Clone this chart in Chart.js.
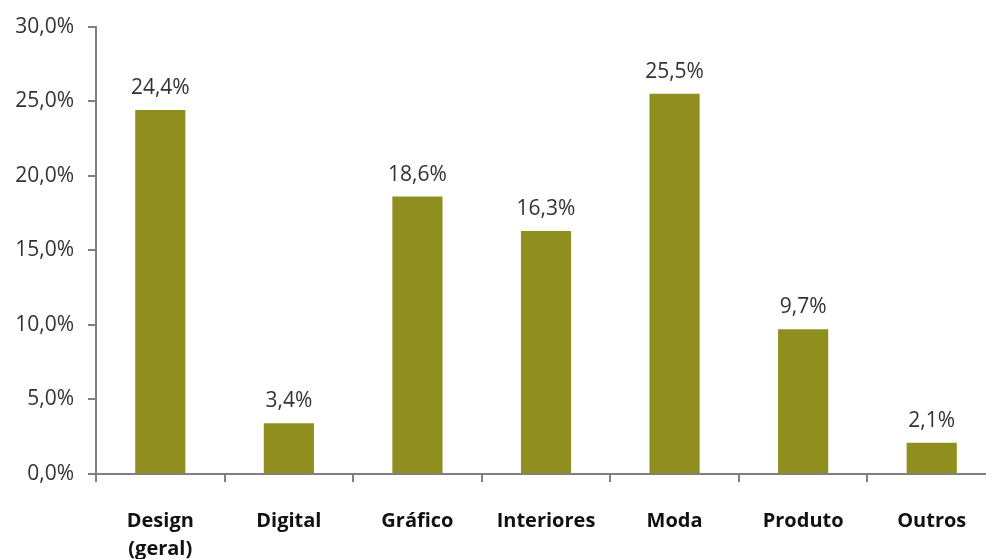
<!DOCTYPE html>
<html>
<head>
<meta charset="utf-8">
<script src="https://cdn.jsdelivr.net/npm/chart.js@4"></script>
<style>
  body { margin: 0; overflow: hidden; background: #fff; }
  #wrap { width: 1000px; height: 559px; }
</style>
</head>
<body>
<div id="wrap"><canvas id="chart-0" width="1000" height="559"></canvas></div>
<script>
// categories and values
var categories = [["Design", "(geral)"], "Digital", "Gráfico", "Interiores", "Moda", "Produto", "Outros"];
var shares = [24.4, 3.4, 18.6, 16.3, 25.5, 9.7, 2.1];
var yTicks = [0, 5, 10, 15, 20, 25, 30];

function pct(v) {
    return v.toFixed(1).replace(".", ",") + "%";
}

// draws the value above every bar
var barValues = {
    id: "barValues",
    afterDatasetsDraw(chart) {
        var ctx = chart.ctx;
        var meta = chart.getDatasetMeta(0);
        ctx.save();
        ctx.font = "21px 'Open Sans'";
        ctx.fillStyle = "#333";
        ctx.textAlign = "center";
        ctx.textBaseline = "alphabetic";
        meta.data.forEach(function (bar, i) {
            ctx.fillText(pct(shares[i]), bar.x, bar.y - 16);
        });
        ctx.restore();
    }
};

var ctx = document.getElementById("chart-0");
var myChart = new Chart(ctx, {
    type: "bar",
    data: {
        labels: categories,
        datasets: [{
            data: shares,
            backgroundColor: "#8e8f1f",
            barPercentage: 0.39,
            categoryPercentage: 1
        }]
    },
    options: {
        responsive: false,
        animation: false,
        layout: { padding: { top: 22, right: 4, left: 0, bottom: 0 } },
        plugins: { legend: { display: false }, tooltip: { enabled: false } },
        scales: {
            x: {
                grid: { offset: true, drawOnChartArea: false, tickLength: 8, color: "#808080", lineWidth: 2 },
                border: { color: "#808080", width: 2 },
                ticks: { color: "#111", font: { family: "'Open Sans'", size: 20, weight: "bold", lineHeight: 1.4 }, padding: 25, maxRotation: 0 },
                afterFit: function (axis) { axis.height = 85; }
            },
            y: {
                min: 0,
                max: 30,
                afterBuildTicks: function (axis) { axis.ticks = yTicks.map(function (v) { return { value: v }; }); },
                grid: { drawOnChartArea: false, tickLength: 8, color: "#808080", lineWidth: 2 },
                border: { color: "#808080", width: 2 },
                ticks: { color: "#333", font: { family: "'Open Sans'", size: 21 }, padding: 14, callback: function (v) { return pct(v); } },
                afterFit: function (axis) { axis.width = 96; }
            }
        }
    },
    plugins: [barValues]
});
</script>
</body>
</html>
